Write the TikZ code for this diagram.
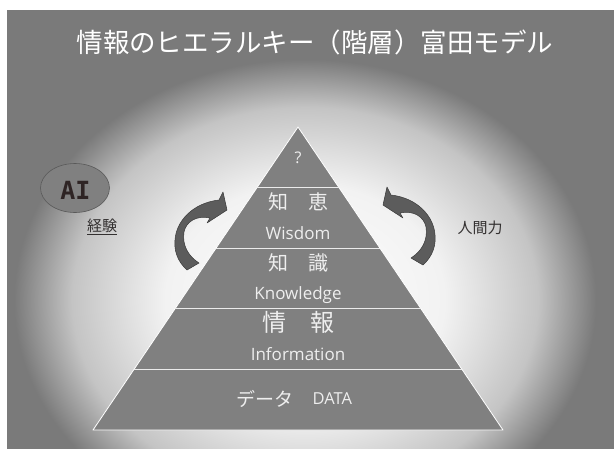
\documentclass[tikz,border=0pt]{standalone}
\usepackage{fontspec}
\usetikzlibrary{calc,shapes.geometric}
\newfontfamily\jp{Noto Sans CJK JP}
\newfontfamily\en{Open Sans}
\newfontfamily\monob{DejaVu Sans Mono}[BoldFont=* Bold]

\definecolor{bggray}{HTML}{7A7A7A}
\definecolor{glowA}{HTML}{F2F2F2}
\definecolor{glowB}{HTML}{C4C4C4}
\definecolor{pyrfill}{HTML}{808080}
\definecolor{arrowfill}{HTML}{5C5C5C}
\definecolor{arrowline}{HTML}{3A3A3A}
\definecolor{darktext}{HTML}{2E2424}
\definecolor{labeltext}{HTML}{333030}
\definecolor{pyrtext}{HTML}{EEEEEE}

% soft light patch behind the pyramid
\pgfdeclareradialshading{glow}{\pgfpoint{0bp}{0bp}}{%
  color(0bp)=(white); color(12bp)=(glowA); color(20bp)=(glowB);
  color(25bp)=(bggray); color(50bp)=(bggray)}

\tikzset{
  pyrjp/.style={text=pyrtext, font=\jp\fontsize{20}{22}\selectfont, inner sep=0pt},
  pyren/.style={text=pyrtext, font=\en\fontsize{17}{19}\selectfont, inner sep=0pt, anchor=base},
  sidelabel/.style={text=labeltext, font=\jp\fontsize{15}{17}\selectfont, inner sep=0pt},
  arrowstyle/.style={fill=arrowfill, draw=arrowline, line width=0.5pt, line join=round},
  bendarrow/.pic={
    \filldraw[arrowstyle] (187,270) .. controls (177,261) and (174,250) .. (175,240)
      .. controls (176,222) and (192,203) .. (219,200)
      -- (223,192) -- (227,210) -- (207,223) -- (210,218)
      .. controls (196,215) and (186,222) .. (184,232)
      .. controls (182,245) and (188,256) .. (199,263) -- cycle;
  }
}

\begin{document}
\begin{tikzpicture}[x=1pt, y=-1pt]
\useasboundingbox (0,0) rectangle (614,448);

% background panel
\begin{scope}
  \clip (7,10) rectangle (614,448);
  \fill[bggray] (7,10) rectangle (614,448);
  \begin{scope}[shift={(305,300)}]
    \node[transform shape, inner sep=0pt, outer sep=0pt, xscale=11.6, yscale=9.6]
      (glowpatch) at (0,0) {\pgfuseshading{glow}};
  \end{scope}
\end{scope}

% title
\node[text=white, font=\jp\fontsize{26.5}{28}\selectfont, inner sep=0pt] (title) at (315,42)
  {情報のヒエラルキー（階層）富田モデル};

% pyramid
\coordinate (apex) at (298,127);
\coordinate (bl) at (93,430);
\coordinate (br) at (503,430);
\filldraw[fill=pyrfill, draw=white, line width=0.8pt, line join=round] (apex) -- (bl) -- (br) -- cycle;
\foreach \k in {0.2,0.4,0.6,0.8}
  \draw[white!92!black, line width=0.8pt] ($(apex)!\k!(bl)$) -- ($(apex)!\k!(br)$);

% level labels
\node[text=pyrtext, font=\en\fontsize{16}{18}\selectfont, inner sep=0pt] (top) at (298,158) {?};
\node[pyrjp] (wisdomjp) at (298,202) {知　恵};
\node[pyren] (wisdom) at (298,239) {Wisdom};
\node[pyrjp] (knowjp) at (298,263) {知　識};
\node[pyren] (know) at (298,299) {Knowledge};
\node[pyrjp, font=\jp\fontsize{24}{26}\selectfont] (infojp) at (298,322) {情　報};
\node[pyren] (info) at (298,360) {Information};
\node[pyrjp, font=\jp\fontsize{19}{21}\selectfont, anchor=west] (datajp) at (236,399) {データ　};
\node[pyren, font=\en\fontsize{16.5}{18}\selectfont, anchor=west] (data) at (datajp.east) {DATA};

% curved arrows on both sides
\pic at (0,0) {bendarrow};
\pic[xscale=-1] at (610,-5) {bendarrow};

% AI bubble and side labels
\node[ellipse, minimum width=69pt, minimum height=49pt, fill=pyrfill, draw=black!65,
      line width=0.6pt, inner sep=0pt] (ai) at (75,188) {};
\node[text=darktext, font=\monob\bfseries\fontsize{25}{27}\selectfont, inner sep=0pt] (aitext) at (75.5,190.5) {AI};
\node[sidelabel] (exp) at (102,227) {\underline{経験}};
\node[sidelabel] (human) at (480,228) {人間力};
\end{tikzpicture}
\end{document}
